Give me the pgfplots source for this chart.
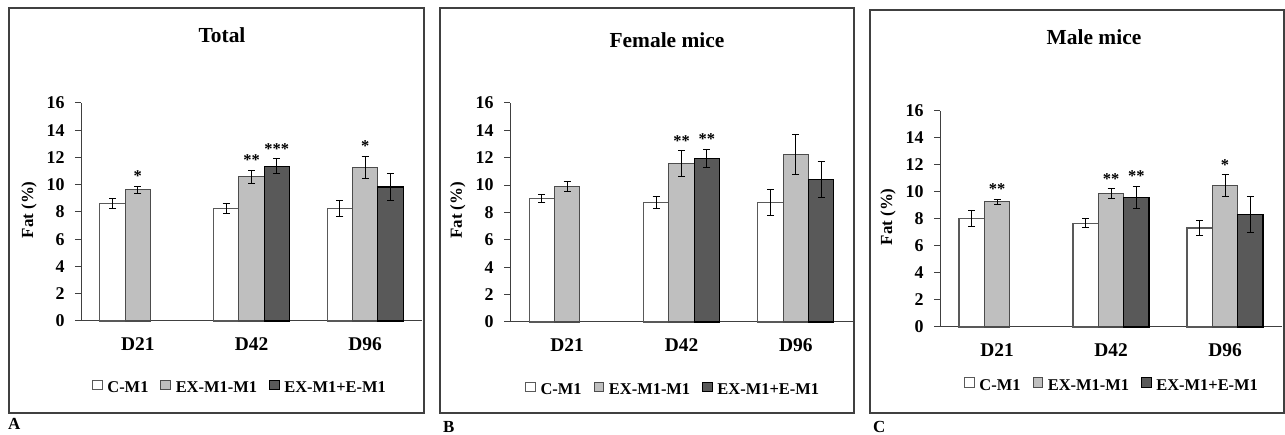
\documentclass[border=0pt]{standalone}
\usepackage{fontspec}
\setmainfont{Liberation Serif}
\usepackage{pgfplots}
\pgfplotsset{compat=1.18}

\definecolor{lightbar}{HTML}{BFBFBF}
\definecolor{darkbar}{HTML}{595959}
\definecolor{axisgray}{HTML}{404040}

% common look of the three panels; #1 = bp per y unit (for star offsets)
\pgfplotsset{
  fatpanel/.style={
    scale only axis, ybar=0pt, bar width=25.3bp,
    xmin=-0.5, xmax=2.5, ymin=0, ymax=16,
    xtick={0,1,2}, xticklabels={D21,D42,D96},
    minor xtick={-0.5,0.5,1.5,2.5},
    ytick={0,2,...,16},
    axis x line*=bottom, axis y line*=left,
    axis line style={axisgray, line width=1bp},
    tick align=outside,
    major tick length=6bp, minor tick length=6bp,
    xtick style={draw=none},
    minor tick style={axisgray, line width=1bp},
    ytick style={axisgray, line width=1bp},
    /pgf/number format/assume math mode=true,
    yticklabel style={font=\fontsize{18}{20}\selectfont\bfseries, xshift=-7bp},
    xticklabel style={font=\fontsize{19.5}{22}\selectfont\bfseries, yshift=-7bp},
    ylabel={Fat (\%)},
    ylabel style={font=\fontsize{17}{20}\selectfont\bfseries,
      at={(axis description cs:-0.152,0.51)}, anchor=center},
    legend columns=-1,
    legend style={draw=none, fill=none, inner sep=0pt, anchor=west,
      font=\fontsize{16.5}{20}\selectfont\bfseries,
      /tikz/every odd column/.append style={column sep=3bp},
      /tikz/every even column/.append style={column sep=10bp}},
    legend image code/.code={\draw[##1, line width=0.8bp] (0bp,-1.5bp) rectangle (9.5bp,8bp);},
    error bars/y dir=both, error bars/y explicit,
    error bars/error bar style={black, line width=1bp},
    error bars/error mark options={black, rotate=90, mark size=3.5bp, line width=1bp},
    nodes near coords, point meta=explicit symbolic,
    visualization depends on={\thisrow{e} \as \errv},
    every node near coord/.append style={font=\fontsize{16.5}{18}\selectfont\bfseries,
      inner sep=0pt, anchor=south, black, yshift=\errv*#1+4},
    clip=false,
  },
  cbar/.style={fill=white, draw=black!65, line width=1.2bp},
  exbar/.style={fill=lightbar, draw=black!70, line width=1.2bp},
  eebar/.style={fill=darkbar, draw=black, line width=1.2bp},
}

\begin{document}
\begin{tikzpicture}[x=1bp, y=1bp]
\useasboundingbox (0,0) rectangle (1285,435);

% panel frames and letters
\draw[axisgray, line width=1.2bp] (9,22) rectangle (424,427);
\draw[axisgray, line width=1.2bp] (440,22) rectangle (854,427);
\draw[axisgray, line width=1.2bp] (870,22) rectangle (1284,425);
\node[anchor=base west, inner sep=0pt, font=\fontsize{17}{18}\selectfont\bfseries] at (8,5) {A};
\node[anchor=base west, inner sep=0pt, font=\fontsize{17}{18}\selectfont\bfseries] at (443,2) {B};
\node[anchor=base west, inner sep=0pt, font=\fontsize{17}{18}\selectfont\bfseries] at (873,2) {C};

% titles
\node[anchor=base, font=\fontsize{21.5}{24}\selectfont\bfseries] at (222,392) {Total};
\node[anchor=base, font=\fontsize{21.5}{24}\selectfont\bfseries] at (667,387) {Female mice};
\node[anchor=base, font=\fontsize{21.5}{24}\selectfont\bfseries] at (1094,390) {Male mice};

% A: Total
\begin{axis}[fatpanel=13.625, at={(81bp,114bp)}, anchor=south west,
  width=341bp, height=218bp,
  legend style={at={(0.032,-0.307)}}]
\addplot[cbar] table[x=x, y=y, y error=e, meta=s] {
x y e s
0 8.63 0.35 {}
1 8.28 0.37 {}
2 8.24 0.60 {}
};
\addplot[exbar] table[x=x, y=y, y error=e, meta=s] {
x y e s
0 9.63 0.25 *
1 10.59 0.48 **
2 11.27 0.80 *
};
\addplot[eebar] table[x=x, y=y, y error=e, meta=s] {
x y e s
1 11.35 0.54 ***
2 9.83 0.98 {}
};
\legend{C-M1, EX-M1-M1, EX-M1+E-M1}
\end{axis}

% B: Female mice
\begin{axis}[fatpanel=13.69, at={(510bp,113bp)}, anchor=south west,
  width=343bp, height=219bp,
  legend style={at={(0.044,-0.31)}}]
\addplot[cbar] table[x=x, y=y, y error=e, meta=s] {
x y e s
0 9.01 0.29 {}
1 8.72 0.44 {}
2 8.72 0.97 {}
};
\addplot[exbar] table[x=x, y=y, y error=e, meta=s] {
x y e s
0 9.89 0.34 {}
1 11.57 0.95 **
2 12.23 1.44 {}
};
\addplot[eebar] table[x=x, y=y, y error=e, meta=s] {
x y e s
1 11.96 0.67 **
2 10.42 1.29 {}
};
\legend{C-M1, EX-M1-M1, EX-M1+E-M1}
\end{axis}

% C: Male mice
\begin{axis}[fatpanel=13.5, at={(940bp,108bp)}, anchor=south west,
  width=342bp, height=216bp,
  legend style={at={(0.07,-0.272)}}]
\addplot[cbar] table[x=x, y=y, y error=e, meta=s] {
x y e s
0 8.04 0.56 {}
1 7.67 0.33 {}
2 7.34 0.56 {}
};
\addplot[exbar] table[x=x, y=y, y error=e, meta=s] {
x y e s
0 9.27 0.17 **
1 9.89 0.35 **
2 10.48 0.80 *
};
\addplot[eebar] table[x=x, y=y, y error=e, meta=s] {
x y e s
1 9.59 0.83 **
2 8.33 1.32 {}
};
\legend{C-M1, EX-M1-M1, EX-M1+E-M1}
\end{axis}
\end{tikzpicture}
\end{document}
